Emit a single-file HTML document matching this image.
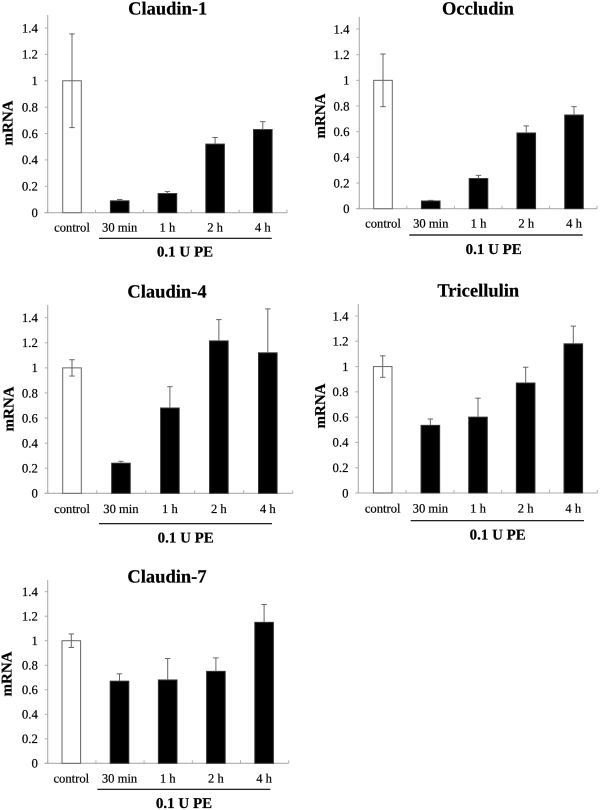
<!DOCTYPE html>
<html lang="en">
<head>
<meta charset="utf-8">
<title>mRNA expression after 0.1 U PE</title>
<style>
html,body{margin:0;padding:0;background:#fff;}
#figure{display:block;width:600px;height:810px;filter:blur(0.35px);}
text{font-family:"Liberation Serif",serif;fill:#000;stroke:#000;stroke-width:0.2px;text-rendering:geometricPrecision;}
</style>
</head>
<body>
<svg id="figure" xmlns="http://www.w3.org/2000/svg" width="600" height="810" viewBox="0 0 600 810"></svg>
<script>
// ---- Data ----
const categories = ["control", "30 min", "1 h", "2 h", "4 h"];
const yTickValues = [0, 0.2, 0.4, 0.6, 0.8, 1, 1.2, 1.4];
const treatmentLabel = "0.1 U PE";
const yAxisLabel = "mRNA";

const claudin1Values = [1, 0.09, 0.145, 0.52, 0.63];
const claudin1Errors = [0.355, 0.01, 0.015, 0.05, 0.06];
const occludinValues = [1, 0.06, 0.235, 0.59, 0.73];
const occludinErrors = [0.205, 0.005, 0.025, 0.055, 0.065];
const claudin4Values = [1, 0.24, 0.68, 1.215, 1.12];
const claudin4Errors = [0.065, 0.015, 0.17, 0.17, 0.35];
const tricellulinValues = [1, 0.535, 0.6, 0.87, 1.18];
const tricellulinErrors = [0.085, 0.05, 0.15, 0.125, 0.14];
const claudin7Values = [1, 0.67, 0.68, 0.75, 1.15];
const claudin7Errors = [0.055, 0.06, 0.175, 0.11, 0.145];

// ---- Layout (separate from data) ----
const panelLayouts = [
  {slug:"claudin-1", title:"Claudin-1", values:claudin1Values, errors:claudin1Errors,
   x0:47.7, x1:287, y0:212.7, y14:28, top:15, first:72, step:47.7,
   tx:167.7, ty:14.5, lb:231.7, ly:238.3, la:99, lz:271.7, px:185, py:256.7, mx:12.7, my:123},
  {slug:"occludin", title:"Occludin", values:occludinValues, errors:occludinErrors,
   x0:359.3, x1:597, y0:208.7, y14:29, top:16.7, first:383, step:47.75,
   tx:478, ty:14.7, lb:227.7, ly:235, la:409.3, lz:582.7, px:493.7, py:254, mx:325, my:116},
  {slug:"claudin-4", title:"Claudin-4", values:claudin4Values, errors:claudin4Errors,
   x0:47.7, x1:292.7, y0:493.3, y14:317.7, top:305, first:72, step:48.95,
   tx:167, ty:297.3, lb:513, ly:523.7, la:99, lz:272, px:185.7, py:542.7, mx:13.3, my:409},
  {slug:"tricellulin", title:"Tricellulin", values:tricellulinValues, errors:tricellulinErrors,
   x0:358.3, x1:597.3, y0:493, y14:316, top:304, first:382.7, step:47.65,
   tx:478.3, ty:296.7, lb:512.3, ly:520.7, la:410.7, lz:584, px:497.7, py:539.3, mx:325, my:406},
  {slug:"claudin-7", title:"Claudin-7", values:claudin7Values, errors:claudin7Errors,
   x0:47.7, x1:288.7, y0:763.3, y14:591.7, top:580, first:71.3, step:48.2,
   tx:167, ty:582.7, lb:782.7, ly:789.3, la:97.3, lz:270.3, px:184, py:808, mx:11.5, my:674}
];

const NS = "http://www.w3.org/2000/svg";
const figure = document.getElementById("figure");
const BAR_WIDTH = 18.6;
const AXIS_COLOR = "#adadad";
const ERROR_COLOR = "#666666";

function make(parent, tag, attrs, content) {
  const el = document.createElementNS(NS, tag);
  for (const k in attrs) el.setAttribute(k, attrs[k]);
  if (content !== undefined) el.textContent = content;
  parent.appendChild(el);
  return el;
}
function line(parent, x1, y1, x2, y2, color, width) {
  return make(parent, "line", {x1:x1, y1:y1, x2:x2, y2:y2, stroke:color, "stroke-width":width});
}
function fmtTick(v) { return String(v); }

panelLayouts.forEach(function (p) {
  const yScale = function (v) { return p.y0 - v * (p.y0 - p.y14) / 1.4; };
  const xScale = function (i) { return p.first + i * p.step; };

  const g = make(figure, "g", {});
  
  

  const title = make(g, "text", {x:p.tx, y:p.ty, "text-anchor":"middle", "font-size":18.5, "font-weight":"bold"}, p.title);
  
  

  const yTitle = make(g, "text", {x:0, y:0, transform:"translate(" + p.mx + " " + p.my + ") rotate(-90)", "text-anchor":"middle", "font-size":15, "font-weight":"bold"}, yAxisLabel);
  
  

  const yAxis = line(g, p.x0, p.top, p.x0, p.y0, AXIS_COLOR, 1.1);
  
  

  const xAxis = line(g, p.x0 - 3, p.y0, p.x1, p.y0, AXIS_COLOR, 1.1);
  
  

  yTickValues.forEach(function (v) {
    const y = yScale(v);
    const tick = line(g, p.x0 - 3, y, p.x0, y, AXIS_COLOR, 1);
    
    
    const label = make(g, "text", {x:p.x0 - 9.8, y:y + 4.3, "text-anchor":"end", "font-size":12.8}, fmtTick(v));
    
    
  });

  for (let i = 0; i <= categories.length; i++) {
    const tx = p.x0 + (p.x1 - p.x0) * i / categories.length;
    const tick = line(g, tx, p.y0 - 3, tx, p.y0, AXIS_COLOR, 1);
    
    
  }

  categories.forEach(function (cat, i) {
    const cx = xScale(i);
    const val = p.values[i];
    const err = p.errors[i];
    const yTop = yScale(val);
    const isControl = i === 0;

    const bar = make(g, "rect", {
      x: cx - BAR_WIDTH / 2, y: yTop, width: BAR_WIDTH, height: p.y0 - yTop,
      fill: isControl ? "#fff" : "#000",
      stroke: isControl ? "#666" : "#333", "stroke-width": 1
    });
    
    

    const yUp = yScale(val + err);
    const yLow = isControl ? yScale(val - err) : yTop;
    const whisker = line(g, cx, yUp, cx, yLow, ERROR_COLOR, 1);
    
    
    const capTop = line(g, cx - 2.7, yUp, cx + 2.7, yUp, ERROR_COLOR, 1);
    
    
    if (isControl) {
      const capLow = line(g, cx - 2.7, yLow, cx + 2.7, yLow, ERROR_COLOR, 1);
      
      
    }

    const catLabel = make(g, "text", {x:cx, y:p.lb, "text-anchor":"middle", "font-size":12.6}, cat);
    
    
  });

  const bracket = line(g, p.la, p.ly, p.lz, p.ly, "#000", 1.2);
  
  

  const treat = make(g, "text", {x:p.px, y:p.py, "text-anchor":"middle", "font-size":15, "font-weight":"bold"}, treatmentLabel);
  
  
});
</script>
</body>
</html>
